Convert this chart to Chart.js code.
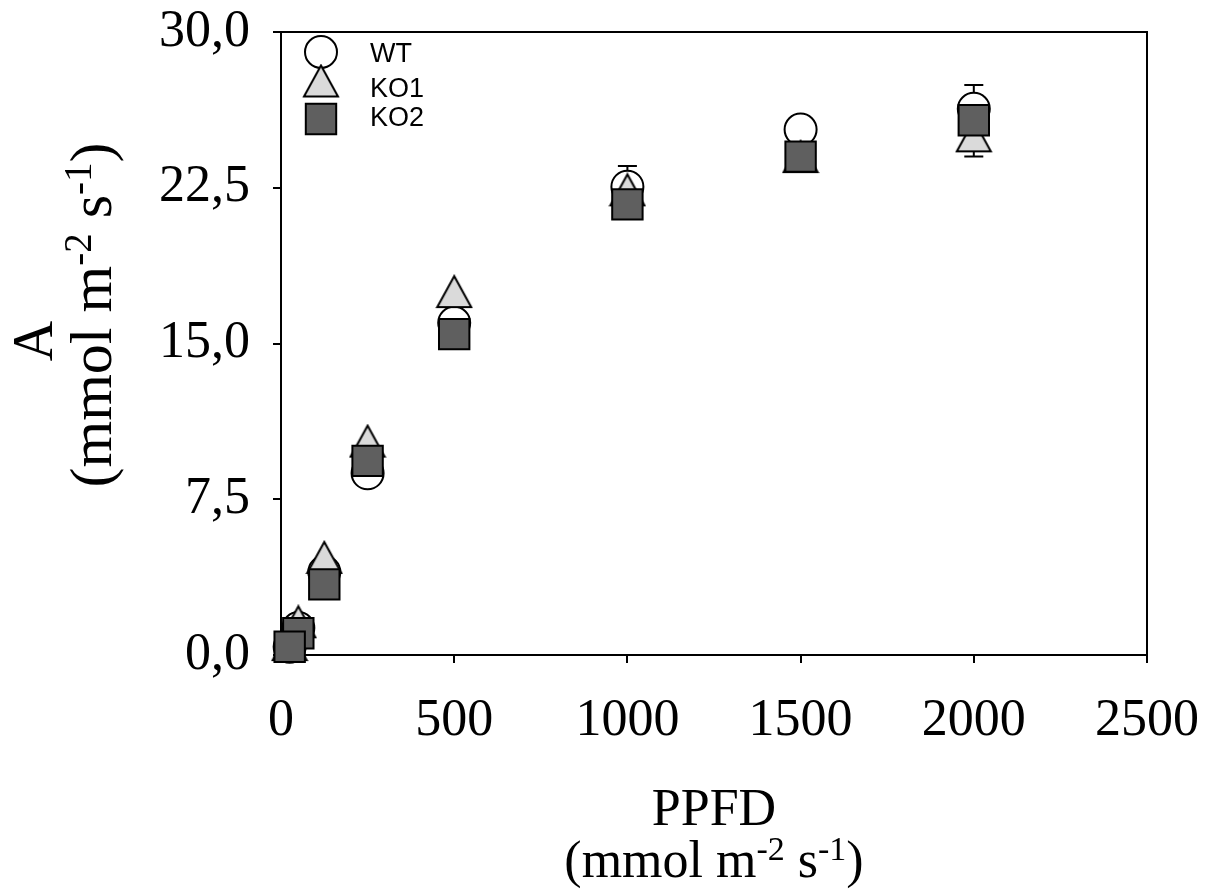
<!DOCTYPE html>
<html>
<head>
<meta charset="utf-8">
<title>Light response of net assimilation</title>
<script src="https://cdn.jsdelivr.net/npm/chart.js@4.4.1/dist/chart.umd.min.js"></script>
<style>
  html, body { margin: 0; padding: 0; background: #ffffff; }
  #wrap { width: 1215px; height: 896px; }
</style>
</head>
<body>
<div id="wrap"><canvas id="chart" width="1215" height="896"></canvas></div>
<script>
// Light levels (PPFD) and mean assimilation rates with their errors
const ppfd = [25, 50, 125, 250, 500, 1000, 1500, 2000];

const wtValues  = [0.4, 1.3, 4.0, 8.75, 16.0, 22.55, 25.3, 26.3];
const wtErrors  = [0.2, 0.3, 0.4, 0.5, 0.6, 1.0, 0.6, 1.15];

const ko1Values = [0.5, 1.6, 4.7, 10.3, 17.5, 22.4, 24.0, 25.0];
const ko1Errors = [0.2, 0.3, 0.4, 0.5, 0.6, 0.7, 0.5, 1.0];

const ko2Values = [0.4, 1.05, 3.4, 9.35, 15.45, 21.7, 24.0, 25.75];
const ko2Errors = [0.2, 0.2, 0.3, 0.5, 0.6, 0.6, 0.5, 0.7];

const seriesNames = ['WT', 'KO1', 'KO2'];
const xTicks = [0, 500, 1000, 1500, 2000, 2500];
const yTicks = [0, 7.5, 15, 22.5, 30];

const SERIF = '"Liberation Serif", "Times New Roman", Times, serif';
const SANS = '"Liberation Sans", Arial, Helvetica, sans-serif';

// Triangle marker centred on its bounding box
function makeTriangle(w, h, fill) {
  const c = document.createElement('canvas');
  c.width = w; c.height = h;
  const g = c.getContext('2d');
  g.beginPath();
  g.moveTo(w / 2, 2);
  g.lineTo(w - 2, h - 2);
  g.lineTo(2, h - 2);
  g.closePath();
  g.fillStyle = fill;
  g.fill();
  g.lineWidth = 2;
  g.strokeStyle = '#000000';
  g.lineJoin = 'miter';
  g.stroke();
  return c;
}
const triangleMark = makeTriangle(38, 35, '#dadada');

// Points listed from high to low light so the low-light markers sit on top
function toPoints(values, errors) {
  return values.map((v, i) => ({ x: ppfd[i], y: v, err: errors[i] })).reverse();
}

const datasets = [
  {
    label: seriesNames[0], data: toPoints(wtValues, wtErrors), errDir: 'up',
    pointStyle: 'circle', pointRadius: 16, backgroundColor: '#ffffff',
    borderColor: '#000000', borderWidth: 2, showLine: false, order: 3, clip: false
  },
  {
    label: seriesNames[1], data: toPoints(ko1Values, ko1Errors), errDir: 'down',
    pointStyle: triangleMark, pointRadius: 18, backgroundColor: '#dadada',
    borderColor: '#000000', borderWidth: 2, showLine: false, order: 2, clip: false
  },
  {
    label: seriesNames[2], data: toPoints(ko2Values, ko2Errors), errDir: 'both',
    pointStyle: 'rect', pointRadius: 21.5, backgroundColor: '#5f5f5f',
    borderColor: '#000000', borderWidth: 2, showLine: false, order: 1, clip: false
  }
];

// Error bars, drawn underneath the markers
const errorBars = {
  id: 'errorBars',
  beforeDatasetsDraw(chart) {
    const ctx = chart.ctx;
    const xs = chart.scales.x, ys = chart.scales.y;
    ctx.save();
    ctx.strokeStyle = '#000000';
    ctx.lineWidth = 2;
    chart.data.datasets.slice().sort((a, b) => b.order - a.order).forEach(ds => {
      ds.data.forEach(p => {
        const px = xs.getPixelForValue(p.x);
        const ends = [];
        if (ds.errDir !== 'down') ends.push(p.y + p.err);
        if (ds.errDir !== 'up') ends.push(p.y - p.err);
        ends.forEach(v => {
          const py0 = ys.getPixelForValue(p.y);
          const py1 = ys.getPixelForValue(v);
          ctx.beginPath();
          ctx.moveTo(px, py0);
          ctx.lineTo(px, py1);
          ctx.moveTo(px - 9.5, py1);
          ctx.lineTo(px + 9.5, py1);
          ctx.stroke();
        });
      });
    });
    ctx.restore();
  }
};

// Top and right edges of the frame
const frame = {
  id: 'frame',
  afterDatasetsDraw(chart) {
    const { ctx, chartArea: a } = chart;
    ctx.save();
    ctx.strokeStyle = '#000000';
    ctx.lineWidth = 2;
    ctx.beginPath();
    ctx.moveTo(a.left, a.top);
    ctx.lineTo(a.right, a.top);
    ctx.lineTo(a.right, a.bottom);
    ctx.stroke();
    ctx.restore();
  }
};

// Legend in the upper-left corner of the plot
const insetLegend = {
  id: 'insetLegend',
  afterDraw(chart) {
    const ctx = chart.ctx;
    const mx = 321;
    const rows = [52, 81, 119];
    const textRows = [55, 90, 119];
    ctx.save();
    chart.data.datasets.forEach((ds, i) => {
      ctx.fillStyle = ds.backgroundColor;
      ctx.strokeStyle = ds.borderColor;
      ctx.lineWidth = ds.borderWidth;
      Chart.helpers.drawPoint(ctx, {
        pointStyle: ds.pointStyle, radius: ds.pointRadius, rotation: 0, borderWidth: ds.borderWidth
      }, mx, rows[i]);
    });
    ctx.fillStyle = '#000000';
    ctx.font = '27px ' + SANS;
    ctx.textAlign = 'left';
    ctx.textBaseline = 'middle';
    chart.data.datasets.forEach((ds, i) => {
      ctx.fillText(ds.label, 370, textRows[i]);
    });
    ctx.restore();
  }
};

// Axis titles with superscript units
function drawRich(ctx, parts, x, y, size) {
  const big = size + 'px ' + SERIF, small = Math.round(size * 0.65) + 'px ' + SERIF;
  const rise = size * 0.33;
  let total = 0;
  parts.forEach(p => { ctx.font = p.sup ? small : big; total += ctx.measureText(p.t).width; });
  let cx = x - total / 2;
  ctx.textAlign = 'left';
  ctx.textBaseline = 'alphabetic';
  parts.forEach(p => {
    ctx.font = p.sup ? small : big;
    ctx.fillText(p.t, cx, p.sup ? y - rise : y);
    cx += ctx.measureText(p.t).width;
  });
}
const unitParts = [
  { t: '(mmol m' }, { t: '-2', sup: true }, { t: ' s' }, { t: '-1', sup: true }, { t: ')' }
];
const axisTitles = {
  id: 'axisTitles',
  afterDraw(chart) {
    const ctx = chart.ctx;
    ctx.save();
    ctx.fillStyle = '#000000';
    const cx = (chart.chartArea.left + chart.chartArea.right) / 2;
    drawRich(ctx, [{ t: 'PPFD' }], cx, 825, 52);
    drawRich(ctx, unitParts, cx, 877, 52);
    ctx.save();
    ctx.translate(52, 341);
    ctx.rotate(-Math.PI / 2);
    drawRich(ctx, [{ t: 'A' }], 0, 0, 56);
    ctx.restore();
    ctx.save();
    ctx.translate(111, 315);
    ctx.rotate(-Math.PI / 2);
    drawRich(ctx, unitParts, 0, 0, 60);
    ctx.restore();
    ctx.restore();
  }
};

const tickFont = { family: SERIF, size: 52 };

new Chart(document.getElementById('chart'), {
  type: 'scatter',
  data: { datasets },
  options: {
    responsive: false,
    animation: false,
    events: [],
    layout: { padding: { top: 32, right: 68, left: 0, bottom: 0 } },
    plugins: { legend: { display: false }, tooltip: { enabled: false } },
    scales: {
      x: {
        type: 'linear', min: 0, max: 2500,
        afterBuildTicks(scale) { scale.ticks = xTicks.map(v => ({ value: v })); },
        afterFit(scale) {
          scale.height = 241;
          scale.paddingLeft = 0; scale.paddingRight = 0;
        },
        ticks: { font: tickFont, color: '#000000', padding: 27, maxRotation: 0, autoSkip: false,
          callback: v => String(v) },
        grid: { drawOnChartArea: false, drawTicks: true, tickLength: 8, color: '#000000', lineWidth: 2 },
        border: { display: true, color: '#000000', width: 2 }
      },
      y: {
        type: 'linear', min: 0, max: 30,
        afterBuildTicks(scale) { scale.ticks = yTicks.map(v => ({ value: v })); },
        afterFit(scale) {
          scale.width = 281;
          scale.paddingTop = 0; scale.paddingBottom = 0;
        },
        ticks: { font: tickFont, color: '#000000', padding: 23, autoSkip: false,
          callback: v => v.toFixed(1).replace('.', ',') },
        grid: { drawOnChartArea: false, drawTicks: true, tickLength: 8, color: '#000000', lineWidth: 2 },
        border: { display: true, color: '#000000', width: 2 }
      }
    }
  },
  plugins: [errorBars, frame, insetLegend, axisTitles]
});
</script>
</body>
</html>
